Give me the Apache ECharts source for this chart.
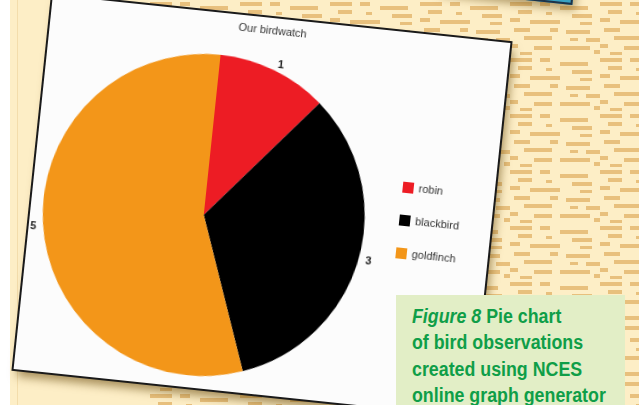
<!DOCTYPE html>
<html>
<head>
<meta charset="utf-8">
<script src="https://cdn.jsdelivr.net/npm/echarts@6/dist/echarts.min.js"></script>
<style>
  html, body { margin:0; padding:0; }
  body { width:639px; height:405px; overflow:hidden; position:relative; background:#fdeec6; }
  #whiteStrip { position:absolute; left:0; top:0; width:10px; height:405px; background:#ffffff; }
  #faintLine { position:absolute; left:17px; top:0; width:1px; height:405px; background:#f3ddac; }
  #texture { position:absolute; left:150px; top:0; width:489px; height:405px;
    background-image:url("data:image/svg+xml;utf8,<svg xmlns='http://www.w3.org/2000/svg' width='90' height='56'><g fill='%23e8c07d'><rect x='0' y='2' width='22' height='4'/><rect x='30' y='2' width='10' height='4'/><rect x='50' y='6' width='28' height='4'/><rect x='8' y='10' width='14' height='4'/><rect x='36' y='12' width='6' height='3'/><rect x='62' y='14' width='20' height='4'/><rect x='0' y='18' width='10' height='4'/><rect x='20' y='20' width='30' height='4'/><rect x='70' y='22' width='12' height='3'/><rect x='4' y='28' width='16' height='4'/><rect x='40' y='28' width='8' height='4'/><rect x='56' y='30' width='24' height='4'/><rect x='14' y='36' width='28' height='4'/><rect x='60' y='38' width='8' height='3'/><rect x='76' y='38' width='14' height='4'/><rect x='0' y='44' width='8' height='4'/><rect x='24' y='46' width='18' height='4'/><rect x='50' y='46' width='30' height='4'/><rect x='10' y='52' width='12' height='3'/><rect x='84' y='50' width='6' height='4'/></g></svg>");
    background-repeat:repeat; }
  #blueCard { position:absolute; left:440px; top:-46px; width:135px; height:44px; background:#3aa2c2;
    border:2px solid #1d3349; box-sizing:border-box; transform:rotate(6deg);
    box-shadow:3px 5px 8px rgba(110,80,20,0.5); }
  #card { position:absolute; left:32px; top:18px; width:460px; height:376px; background:#fcfcfc;
    transform:rotate(6deg); transform-origin:50% 50%;
    box-shadow:0 0 0 2px #1a1a1a, 4px 7px 10px rgba(110,80,20,0.6); }
  #chart { position:absolute; left:0; top:0; width:460px; height:376px; }
  #caption { position:absolute; left:396px; top:295px; width:229px; height:120px; background:#e2eec6;
    box-sizing:border-box; padding:8px 0 0 16px; overflow:hidden; }
  #captionText { color:#0f9e48; font-family:"Liberation Sans",Arial,sans-serif;
    font-weight:bold; font-size:20px; line-height:26.3px; white-space:nowrap;
    transform:scaleX(0.89); transform-origin:0 0; }
  #captionText i { font-style:italic; }
</style>
</head>
<body>
<div id="whiteStrip"></div>
<div id="faintLine"></div>
<div id="texture"></div>
<div id="blueCard"></div>
<div id="card"><div id="chart"></div></div>
<div id="caption"><div id="captionText"><i>Figure 8</i> Pie chart<br>of bird observations<br>created using NCES<br>online graph generator</div></div>
<script>
// ---- data ----
const chartTitle = 'Our birdwatch';
const categories = ['robin', 'blackbird', 'goldfinch'];
const observations = [1, 3, 5];
const sliceColors = ['#ed1c24', '#000000', '#f39619'];

const chart = echarts.init(document.getElementById('chart'), null, { renderer: 'canvas' });
const pieData = categories.map((name, i) => ({
  name: name,
  value: observations[i],
  itemStyle: { color: sliceColors[i] }
}));
const fontFam = '"Liberation Sans", Arial, Helvetica, sans-serif';
chart.setOption({
  animation: false,
  backgroundColor: 'transparent',
  title: {
    text: chartTitle,
    left: 188, top: 7, padding: 0,
    textStyle: { fontFamily: fontFam, fontSize: 11, fontWeight: 'normal', color: '#333' }
  },
  legend: {
    orient: 'vertical',
    left: 368, top: 149, padding: 0,
    itemWidth: 11, itemHeight: 11, itemGap: 22,
    icon: 'rect',
    data: categories,
    textStyle: { fontFamily: fontFam, fontSize: 11, color: '#333' }
  },
  series: [{
    type: 'pie',
    center: [173, 203],
    radius: 161,
    startAngle: 90,
    clockwise: true,
    avoidLabelOverlap: false,
    label: {
      show: true, position: 'outside', formatter: '{c}',
      fontFamily: fontFam, fontSize: 11, fontWeight: 'bold', color: '#222',
      distanceToLabelLine: 1
    },
    labelLine: { show: false, length: 6, length2: 0 },
    itemStyle: { borderWidth: 0 },
    emphasis: { disabled: true },
    data: pieData
  }]
});
</script>
</body>
</html>
